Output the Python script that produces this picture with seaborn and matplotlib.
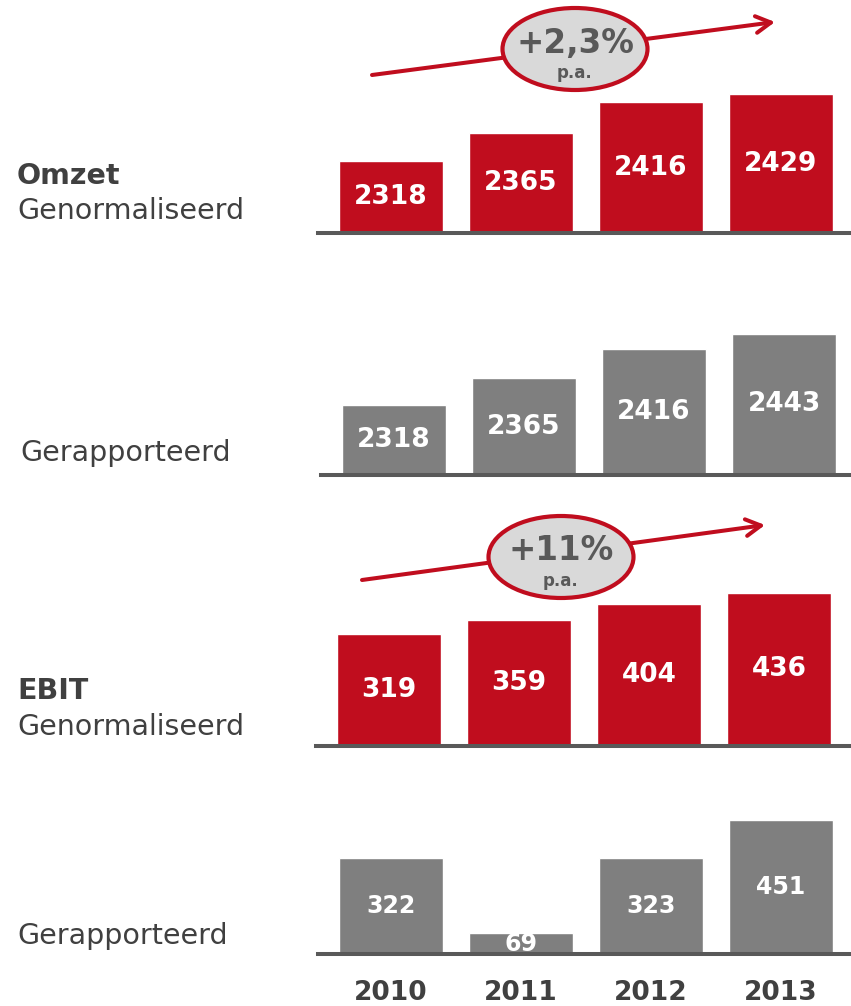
import matplotlib
matplotlib.use("Agg")
import matplotlib.pyplot as plt
import seaborn as sns
import pandas as pd
from matplotlib.patches import Ellipse

# data
years = ["2010", "2011", "2012", "2013"]
omzet_norm = [2318, 2365, 2416, 2429]
omzet_rap = [2318, 2365, 2416, 2443]
ebit_norm = [319, 359, 404, 436]
ebit_rap = [322, 69, 323, 451]
omzet_groei = "+2,3%"
ebit_groei = "+11%"

RED = "#c00d1e"
GREY = "#7f7f7f"
DARK = "#404040"
BASE = "#595959"

W, H = 851, 1006
sns.set_theme(style="white")
plt.rcParams["font.family"] = ["DejaVu Sans"]

fig = plt.figure(figsize=(W / 100, H / 100), dpi=100)

# values, colour, baseline px, y bottom, px per unit, first bar centre px, label size
panels = [
    (omzet_norm, RED, 233, 2198, 0.60, 391, 19),
    (omzet_rap, GREY, 475, 2195, 0.57, 394, 19),
    (ebit_norm, RED, 746, 0, 0.352, 389, 19),
    (ebit_rap, GREY, 954, 0, 0.298, 391, 17),
]

h = 170
for i, (vals, col, base, y0, scale, c0, fs) in enumerate(panels):
    left = c0 - 0.56 * 130
    ax = fig.add_axes([left / W, 1 - base / H, 533 / W, h / H])
    df = pd.DataFrame({"jaar": years, "waarde": vals})
    sns.barplot(data=df, x="jaar", y="waarde", color=col, saturation=1,
                width=0.8, ax=ax)
    ax.set_xlim(-0.56, 3.54)
    ax.set_ylim(y0, y0 + h / scale)
    ax.patch.set_alpha(0)
    for s in ["top", "left", "right"]:
        ax.spines[s].set_visible(False)
    ax.spines["bottom"].set_color(BASE)
    ax.spines["bottom"].set_linewidth(2.9)
    ax.set_yticks([])
    ax.set_xlabel("")
    ax.set_ylabel("")
    ax.tick_params(axis="x", length=0, pad=19)
    if i == 3:
        ax.set_xticks(range(4))
        ax.set_xticklabels(years, fontsize=19, fontweight="bold", color=DARK)
    else:
        ax.set_xticklabels([])
    for p, v in zip(ax.patches, vals):
        ax.text(p.get_x() + p.get_width() / 2, (y0 + v) / 2, str(v),
                ha="center", va="center", color="white",
                fontsize=fs, fontweight="bold")

# left labels
def lbl(x, y, s, bold=False):
    fig.text(x / W, 1 - y / H, s, ha="left", va="center", fontsize=20.5,
             color=DARK, fontweight="bold" if bold else "normal")

lbl(17, 176, "Omzet", True)
lbl(17, 211, "Genormaliseerd")
lbl(20, 453, "Gerapporteerd")
lbl(17, 691, "EBIT", True)
lbl(17, 727, "Genormaliseerd")
lbl(17, 936, "Gerapporteerd")

# growth arrows
ov = fig.add_axes([0, 0, 1, 1])
ov.set_xlim(0, W)
ov.set_ylim(H, 0)
ov.axis("off")

def groei(x1, y1, x2, y2, cx, cy, txt):
    ov.annotate("", xy=(x2, y2), xytext=(x1, y1),
                arrowprops=dict(arrowstyle="->,head_length=0.9,head_width=0.5",
                                color=RED, lw=2.9, shrinkA=0, shrinkB=0))
    ov.add_patch(Ellipse((cx, cy), 145, 82, facecolor="#d9d9d9",
                         edgecolor=RED, lw=3, zorder=3))
    ov.text(cx, cy - 6, txt, ha="center", va="center", fontsize=23.5,
            fontweight="bold", color=BASE, zorder=4)
    ov.text(cx, cy + 24, "p.a.", ha="center", va="center", fontsize=12,
            fontweight="bold", color=BASE, zorder=4)

groei(372, 75, 775, 22, 575, 49, omzet_groei)
groei(362, 580, 765, 525, 561, 557, ebit_groei)

fig.savefig("out.png", dpi=100)
